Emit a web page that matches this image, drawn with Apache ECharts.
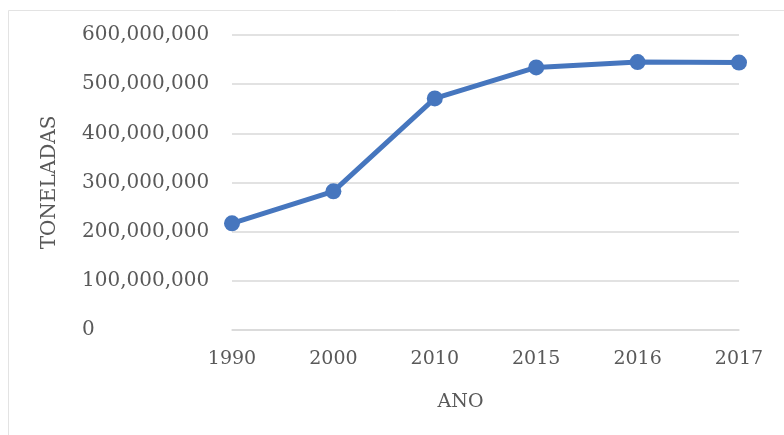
<!DOCTYPE html>
<html>
<head>
<meta charset="utf-8">
<script src="https://cdn.jsdelivr.net/npm/echarts@6/dist/echarts.min.js"></script>
<style>
  html, body { margin: 0; padding: 0; background: #ffffff; }
  #chart { width: 784px; height: 435px; }
</style>
</head>
<body>
<div id="chart"></div>
<script>
// Annual tonnage by year
const years = ['1990', '2000', '2010', '2015', '2016', '2017'];
const tonnes = [217000000, 282000000, 471000000, 534000000, 545000000, 544000000];
const yTicks = { min: 0, max: 600000000, interval: 100000000 };
const xTitle = 'ANO';
const yTitle = 'TONELADAS';

const font = 'DejaVu Serif';
const textColor = '#595959';
const lineColor = '#4676BE';

const chart = echarts.init(document.getElementById('chart'), null, { renderer: 'canvas' });

chart.setOption({
  animation: false,
  backgroundColor: '#ffffff',
  graphic: [{
    type: 'rect',
    left: 6,
    top: 8,
    shape: { width: 776, height: 430 },
    style: { fill: 'none', stroke: '#e3e3e3', lineWidth: 1 },
    silent: true
  }],
  grid: { left: 232, right: 45, top: 35, bottom: 105 },
  xAxis: {
    type: 'category',
    data: years,
    boundaryGap: false,
    axisLine: { show: true, lineStyle: { color: '#d9d9d9', width: 1.5 } },
    axisTick: { show: false },
    axisLabel: { color: textColor, fontFamily: font, fontSize: 19, margin: 20 },
    name: xTitle,
    nameLocation: 'middle',
    nameGap: 63,
    nameTextStyle: { color: textColor, fontFamily: font, fontSize: 19, padding: [0, 50, 0, 0] }
  },
  yAxis: {
    type: 'value',
    min: yTicks.min,
    max: yTicks.max,
    interval: yTicks.interval,
    axisLine: { show: false },
    axisTick: { show: false },
    splitLine: { lineStyle: { color: '#d9d9d9', width: 1.5 } },
    axisLabel: {
      color: textColor, fontFamily: font, fontSize: 20, margin: 150, align: 'left',
      formatter: v => v.toLocaleString('en-US')
    },
    name: yTitle,
    nameLocation: 'middle',
    nameRotate: 90,
    nameGap: 172,
    nameTextStyle: { color: textColor, fontFamily: font, fontSize: 20 }
  },
  series: [{
    type: 'line',
    data: tonnes,
    symbol: 'circle',
    symbolSize: 16,
    lineStyle: { color: lineColor, width: 5 },
    itemStyle: { color: lineColor },
    z: 3
  }]
});
</script>
</body>
</html>
